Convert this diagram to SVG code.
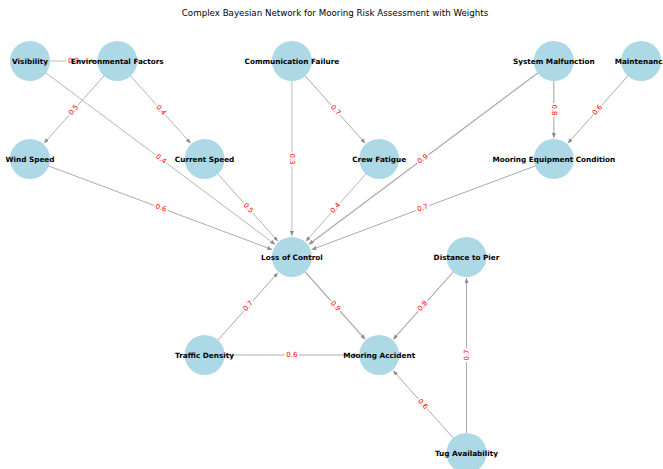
<svg xmlns="http://www.w3.org/2000/svg" width="663" height="469" viewBox="0 0 663 469">
  <defs>
    <marker id="arrow" viewBox="0 0 5 4" refX="5" refY="2" markerWidth="5" markerHeight="4" markerUnits="userSpaceOnUse" orient="auto">
      <path d="M0,0 L5,2 L0,4 Z" fill="#8a8a8a"/>
    </marker>
  </defs>
  <style>
    .edge { stroke: #a8a8a8; fill: none; marker-end: url(#arrow); }
    .node circle { fill: #add8e6; }
    .node text { font-family: "DejaVu Sans", "Liberation Sans", sans-serif; font-weight: bold; font-size: 7.3px; fill: #000; text-anchor: middle; dominant-baseline: central; }
    .elabel rect { fill: #fff; }
    .elabel text { font-family: "DejaVu Sans", "Liberation Sans", sans-serif; font-size: 7px; fill: #ff0000; text-anchor: middle; dominant-baseline: central; }
    .title { font-family: "DejaVu Sans", "Liberation Sans", sans-serif; font-size: 8.7px; fill: #000; text-anchor: middle; }
  </style>
  <rect width="663" height="469" fill="#fff"/>
  <text class="title" x="335" y="16">Complex Bayesian Network for Mooring Risk Assessment with Weights</text>

  <!-- connectors: stroke width grows with the edge weight -->
  <g id="edges">
    <line class="edge" x1="30" y1="61" x2="96.3" y2="61" stroke-width="0.75"/>
    <line class="edge" x1="30" y1="61" x2="275.1" y2="244.4" stroke-width="0.85"/>
    <line class="edge" x1="117.3" y1="61" x2="43.97" y2="143.32" stroke-width="0.9"/>
    <line class="edge" x1="117.3" y1="61" x2="190.63" y2="143.32" stroke-width="0.85"/>
    <line class="edge" x1="291.9" y1="61" x2="291.9" y2="236" stroke-width="0.75"/>
    <line class="edge" x1="291.9" y1="61" x2="365.23" y2="143.32" stroke-width="1.0"/>
    <line class="edge" x1="553.8" y1="61" x2="308.71" y2="244.42" stroke-width="1.15"/>
    <line class="edge" x1="553.8" y1="61" x2="553.8" y2="138" stroke-width="1.1"/>
    <line class="edge" x1="641.1" y1="61" x2="567.77" y2="143.32" stroke-width="0.95"/>
    <line class="edge" x1="30" y1="159" x2="272.23" y2="249.64" stroke-width="0.95"/>
    <line class="edge" x1="204.6" y1="159" x2="277.93" y2="241.32" stroke-width="0.9"/>
    <line class="edge" x1="379.2" y1="159" x2="305.87" y2="241.32" stroke-width="0.85"/>
    <line class="edge" x1="553.8" y1="159" x2="311.57" y2="249.64" stroke-width="1.0"/>
    <line class="edge" x1="291.9" y1="257" x2="365.23" y2="339.32" stroke-width="1.15"/>
    <line class="edge" x1="204.6" y1="355" x2="277.93" y2="272.68" stroke-width="1.0"/>
    <line class="edge" x1="204.6" y1="355" x2="358.2" y2="355" stroke-width="0.95"/>
    <line class="edge" x1="466.5" y1="257" x2="393.17" y2="339.32" stroke-width="1.1"/>
    <line class="edge" x1="466.5" y1="453" x2="393.17" y2="370.68" stroke-width="0.95"/>
    <line class="edge" x1="466.5" y1="453" x2="466.5" y2="278" stroke-width="1.0"/>
  </g>

  <!-- node discs -->
  <g id="node-visibility" class="node"><circle cx="30" cy="61" r="20"/></g>
  <g id="node-environmental-factors" class="node"><circle cx="117.3" cy="61" r="20"/></g>
  <g id="node-communication-failure" class="node"><circle cx="291.9" cy="61" r="20"/></g>
  <g id="node-system-malfunction" class="node"><circle cx="553.8" cy="61" r="20"/></g>
  <g id="node-maintenance" class="node"><circle cx="641.1" cy="61" r="20"/></g>
  <g id="node-wind-speed" class="node"><circle cx="30" cy="159" r="20"/></g>
  <g id="node-current-speed" class="node"><circle cx="204.6" cy="159" r="20"/></g>
  <g id="node-crew-fatigue" class="node"><circle cx="379.2" cy="159" r="20"/></g>
  <g id="node-mooring-equipment-condition" class="node"><circle cx="553.8" cy="159" r="20"/></g>
  <g id="node-loss-of-control" class="node"><circle cx="291.9" cy="257" r="20"/></g>
  <g id="node-distance-to-pier" class="node"><circle cx="466.5" cy="257" r="20"/></g>
  <g id="node-traffic-density" class="node"><circle cx="204.6" cy="355" r="20"/></g>
  <g id="node-mooring-accident" class="node"><circle cx="379.2" cy="355" r="20"/></g>
  <g id="node-tug-availability" class="node"><circle cx="466.5" cy="453" r="20"/></g>

  <!-- edge weights -->
  <g id="edge-labels">
    <g class="elabel" transform="translate(73.6,61)"><rect x="-7" y="-4.5" width="14" height="9"/><text>0.3</text></g>
    <g class="elabel" transform="translate(161,159) rotate(36.8)"><rect x="-7" y="-4.5" width="14" height="9"/><text>0.4</text></g>
    <g class="elabel" transform="translate(73.6,110) rotate(-48.3)"><rect x="-7" y="-4.5" width="14" height="9"/><text>0.5</text></g>
    <g class="elabel" transform="translate(161,110) rotate(48.3)"><rect x="-7" y="-4.5" width="14" height="9"/><text>0.4</text></g>
    <g class="elabel" transform="translate(291.9,159) rotate(90)"><rect x="-7" y="-4.5" width="14" height="9"/><text>0.3</text></g>
    <g class="elabel" transform="translate(335.5,110) rotate(48.3)"><rect x="-7" y="-4.5" width="14" height="9"/><text>0.7</text></g>
    <g class="elabel" transform="translate(422.8,159) rotate(-36.8)"><rect x="-7" y="-4.5" width="14" height="9"/><text>0.9</text></g>
    <g class="elabel" transform="translate(553.8,110) rotate(90)"><rect x="-7" y="-4.5" width="14" height="9"/><text>0.8</text></g>
    <g class="elabel" transform="translate(597.5,110) rotate(-48.3)"><rect x="-7" y="-4.5" width="14" height="9"/><text>0.6</text></g>
    <g class="elabel" transform="translate(161,208) rotate(20.5)"><rect x="-7" y="-4.5" width="14" height="9"/><text>0.6</text></g>
    <g class="elabel" transform="translate(248.3,208) rotate(48.3)"><rect x="-7" y="-4.5" width="14" height="9"/><text>0.5</text></g>
    <g class="elabel" transform="translate(335.5,208) rotate(-48.3)"><rect x="-7" y="-4.5" width="14" height="9"/><text>0.4</text></g>
    <g class="elabel" transform="translate(422.8,208) rotate(-20.5)"><rect x="-7" y="-4.5" width="14" height="9"/><text>0.7</text></g>
    <g class="elabel" transform="translate(335.5,306) rotate(48.3)"><rect x="-7" y="-4.5" width="14" height="9"/><text>0.9</text></g>
    <g class="elabel" transform="translate(248.3,306) rotate(-48.3)"><rect x="-7" y="-4.5" width="14" height="9"/><text>0.7</text></g>
    <g class="elabel" transform="translate(291.9,355)"><rect x="-7" y="-4.5" width="14" height="9"/><text>0.6</text></g>
    <g class="elabel" transform="translate(422.8,306) rotate(-48.3)"><rect x="-7" y="-4.5" width="14" height="9"/><text>0.8</text></g>
    <g class="elabel" transform="translate(422.8,404) rotate(48.3)"><rect x="-7" y="-4.5" width="14" height="9"/><text>0.6</text></g>
    <g class="elabel" transform="translate(466.5,355) rotate(-90)"><rect x="-7" y="-4.5" width="14" height="9"/><text>0.7</text></g>
  </g>

  <!-- node names -->
  <g id="node-names" class="node">
    <text x="30" y="61">Visibility</text>
    <text x="117.3" y="61">Environmental Factors</text>
    <text x="291.9" y="61">Communication Failure</text>
    <text x="553.8" y="61">System Malfunction</text>
    <text x="641.1" y="61">Maintenance</text>
    <text x="30" y="159">Wind Speed</text>
    <text x="204.6" y="159">Current Speed</text>
    <text x="379.2" y="159">Crew Fatigue</text>
    <text x="553.8" y="159">Mooring Equipment Condition</text>
    <text x="291.9" y="257">Loss of Control</text>
    <text x="466.5" y="257">Distance to Pier</text>
    <text x="204.6" y="355">Traffic Density</text>
    <text x="379.2" y="355">Mooring Accident</text>
    <text x="466.5" y="453">Tug Availability</text>
  </g>
</svg>
